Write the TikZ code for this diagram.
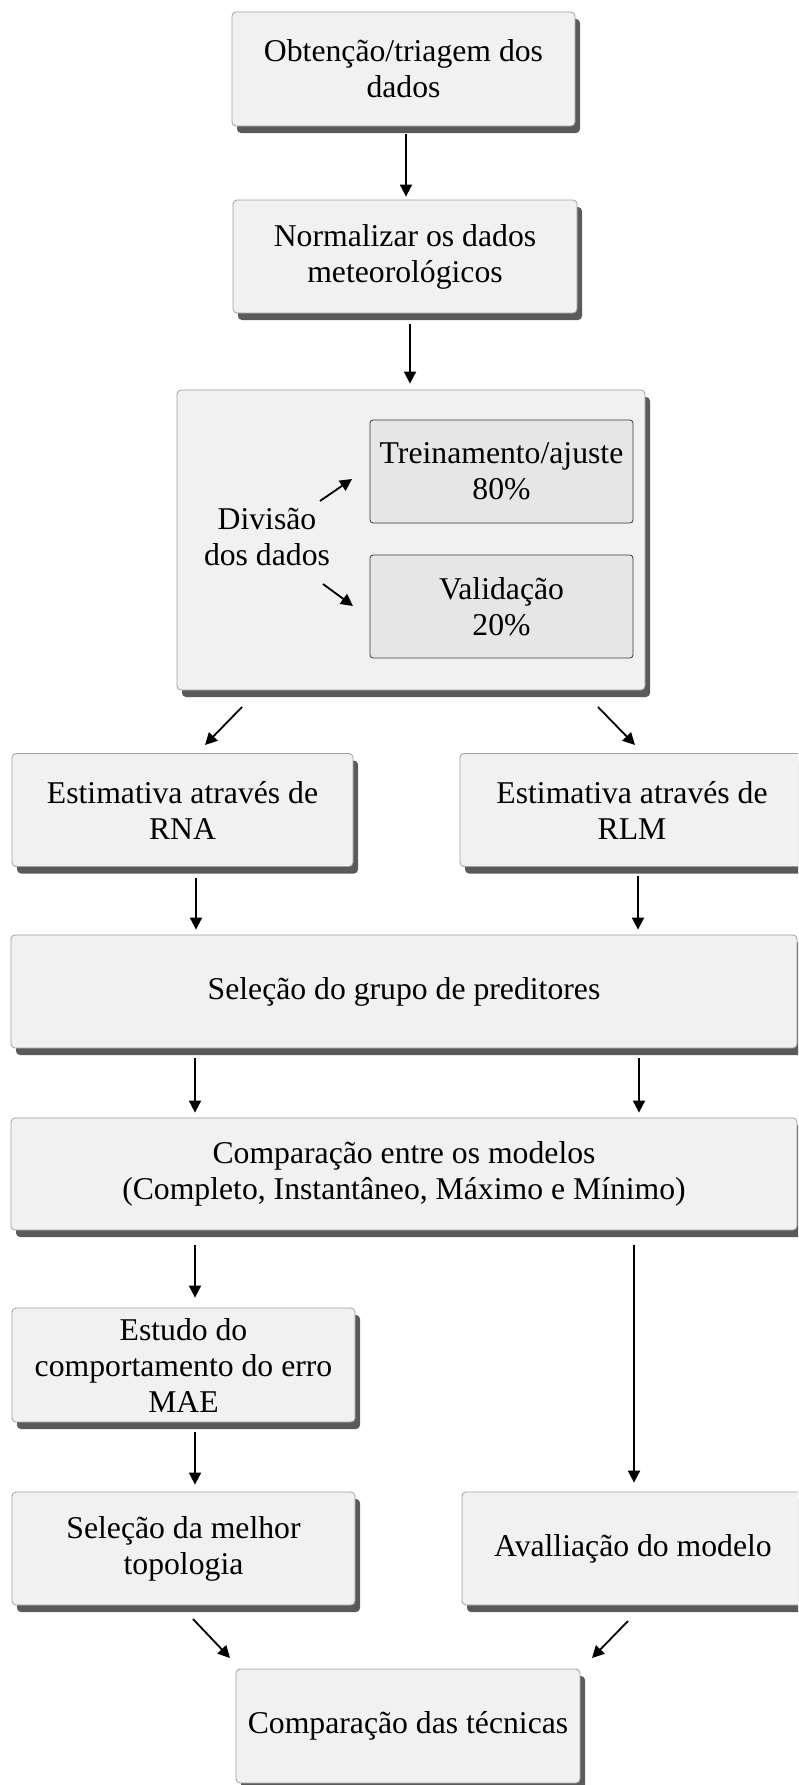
\documentclass[tikz,border=0pt]{standalone}
\usepackage{fontspec}
\setmainfont{Liberation Serif}
\usetikzlibrary{shadows,arrows.meta}
\definecolor{boxfill}{HTML}{F2F1F2}
\definecolor{shadowc}{HTML}{5A5A5A}
\definecolor{boxline}{HTML}{A0A0A0}
\definecolor{innerfill}{HTML}{E6E6E6}
\definecolor{innerline}{HTML}{3A3A3A}
\newcommand\myfont{\fontsize{31.7}{36}\selectfont}
\tikzset{
  box/.style={draw=boxline, fill=boxfill, rounded corners=4pt, line width=0.8pt,
    drop shadow={shadow xshift=5pt, shadow yshift=-7pt, fill=shadowc, opacity=1},
    align=center, font=\myfont, inner sep=0pt},
  innerbox/.style={draw=innerline, fill=innerfill, rounded corners=3pt, line width=0.8pt,
    align=center, font=\myfont, inner sep=0pt, minimum width=263pt, minimum height=103pt},
  plain/.style={align=center, font=\myfont, inner sep=0pt},
  arr/.style={line width=1.8pt, -{Triangle[length=12pt,width=12pt]}}
}
\begin{document}
\begin{tikzpicture}[x=1pt,y=-1pt]
\useasboundingbox (0,0) rectangle (798,1785);
\fill[white] (0,0) rectangle (798,1785);
\clip (0,0) rectangle (798,1785);

% column coordinates
\coordinate (cM) at (406,0);
\coordinate (cM2) at (410,0);
\coordinate (cL) at (196,0);
\coordinate (cL2) at (195,0);
\coordinate (cR) at (638,0);
\coordinate (cR2) at (639,0);
\coordinate (cR3) at (634,0);

% boxes
\node[box, minimum width=343pt, minimum height=114pt] (obt) at (403.5,69) {Obtenção/triagem dos\\dados};
\node[box, minimum width=344pt, minimum height=113pt] (norm) at (405,256.5) {Normalizar os dados\\meteorológicos};
\node[box, minimum width=468pt, minimum height=300pt] (div) at (411,540) {};
\node[innerbox] (trein) at (501.5,471.5) {Treinamento/ajuste\\80\%};
\node[innerbox] (valid) at (501.5,606.5) {Validação\\20\%};
\node[plain] (divtxt) at (267,537) {Divisão\\dos dados};

\node[box, minimum width=341pt, minimum height=113pt] (rna) at (182.5,810) {Estimativa através de\\RNA};
\node[box, minimum width=344pt, minimum height=113pt] (rlm) at (632,810) {Estimativa através de\\RLM};
\node[box, minimum width=786pt, minimum height=113pt] (sel) at (404,991.5) {Seleção do grupo de preditores};
\node[box, minimum width=786pt, minimum height=112pt] (comp) at (404,1174) {Comparação entre os modelos\\(Completo, Instantâneo, Máximo e Mínimo)};
\node[box, minimum width=343pt, minimum height=114pt] (est) at (183.5,1365) {Estudo do\\comportamento do erro\\MAE};
\node[box, minimum width=343pt, minimum height=113pt] (selm) at (183.5,1548.5) {Seleção da melhor\\topologia};
\node[box, minimum width=342pt, minimum height=113pt] (aval) at (633,1548.5) {Avalliação do modelo};
\node[box, minimum width=344pt, minimum height=114pt] (tec) at (408,1726) {Comparação das técnicas};

% free-end coordinates for diagonal arrows
\coordinate (d1a) at (320,501);
\coordinate (d1b) at (352,479);
\coordinate (d2a) at (323,584);
\coordinate (d2b) at (353,606);
\coordinate (r1a) at (242,707);
\coordinate (r1b) at (205,745);
\coordinate (r2a) at (598,707);
\coordinate (r2b) at (635,745);
\coordinate (t1a) at (193,1619);
\coordinate (t1b) at (230,1658);
\coordinate (t2a) at (628,1621);
\coordinate (t2b) at (592,1658);

% connectors
\draw[arr, shorten <=8pt, shorten >=3pt] (cM |- obt.south) -- (cM |- norm.north);
\draw[arr, shorten <=11pt, shorten >=6pt] (cM2 |- norm.south) -- (cM2 |- div.north);
\draw[arr] (d1a) -- (d1b);
\draw[arr] (d2a) -- (d2b);
\draw[arr] (r1a) -- (r1b);
\draw[arr] (r2a) -- (r2b);
\draw[arr, shorten <=11pt, shorten >=5pt] (cL |- rna.south) -- (cL |- sel.north);
\draw[arr, shorten <=9pt, shorten >=5pt] (cR |- rlm.south) -- (cR |- sel.north);
\draw[arr, shorten <=10pt, shorten >=5pt] (cL2 |- sel.south) -- (cL2 |- comp.north);
\draw[arr, shorten <=10pt, shorten >=5pt] (cR2 |- sel.south) -- (cR2 |- comp.north);
\draw[arr, shorten <=15pt, shorten >=10pt] (cL2 |- comp.south) -- (cL2 |- est.north);
\draw[arr, shorten <=15pt, shorten >=9pt] (cR3 |- comp.south) -- (cR3 |- aval.north);
\draw[arr, shorten <=10pt, shorten >=7pt] (cL2 |- est.south) -- (cL2 |- selm.north);
\draw[arr] (t1a) -- (t1b);
\draw[arr] (t2a) -- (t2b);
\end{tikzpicture}
\end{document}
